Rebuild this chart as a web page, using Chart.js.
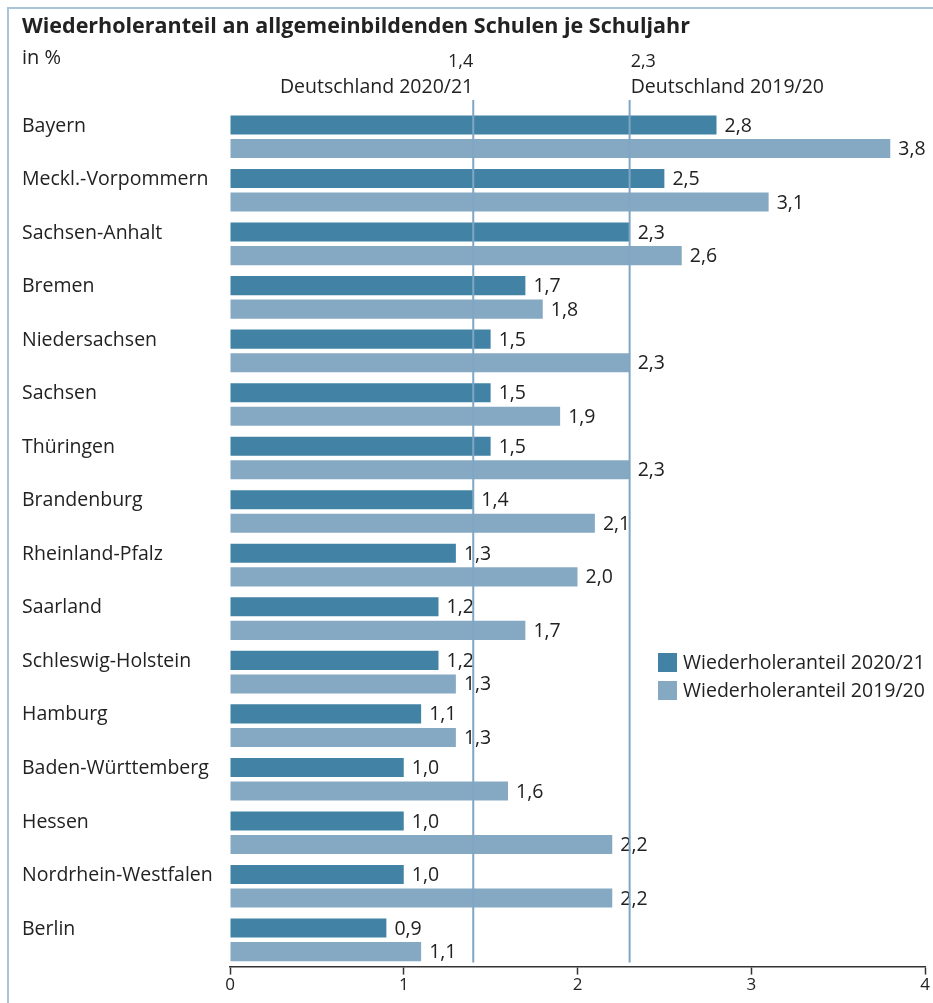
<!DOCTYPE html>
<html>
<head>
<meta charset="utf-8">
<script src="https://cdn.jsdelivr.net/npm/chart.js@4"></script>
<style>
  body { margin: 0; background: #fff; }
  #wrap { width: 933px; height: 1003px; position: relative; }
</style>
</head>
<body>
<div id="wrap"><canvas id="myChart"></canvas></div>
<script>
// Daten
const laender = ['Bayern', 'Meckl.-Vorpommern', 'Sachsen-Anhalt', 'Bremen', 'Niedersachsen', 'Sachsen',
  'Thüringen', 'Brandenburg', 'Rheinland-Pfalz', 'Saarland', 'Schleswig-Holstein', 'Hamburg',
  'Baden-Württemberg', 'Hessen', 'Nordrhein-Westfalen', 'Berlin'];
const anteil2021 = [2.8, 2.5, 2.3, 1.7, 1.5, 1.5, 1.5, 1.4, 1.3, 1.2, 1.2, 1.1, 1.0, 1.0, 1.0, 0.9];
const anteil1920 = [3.8, 3.1, 2.6, 1.8, 2.3, 1.9, 2.3, 2.1, 2.0, 1.7, 1.3, 1.3, 1.6, 2.2, 2.2, 1.1];
const serienNamen = ['Wiederholeranteil 2020/21', 'Wiederholeranteil 2019/20'];
const deutschland = [1.4, 2.3];
const deutschlandNamen = ['Deutschland 2020/21', 'Deutschland 2019/20'];
const xTicks = [0, 1, 2, 3, 4];

const FONT = '"Open Sans", sans-serif';
const dunkel = '#4283a5';
const hell = '#86a9c3';

function komma(v) {
  return v.toFixed(1).replace('.', ',');
}

// eigenes Plugin fuer Texte, Linien, Rahmen und Legende
const beschriftung = {
  id: 'beschriftung',
  beforeDraw(chart) {
    const c = chart.ctx;
    c.save();
    c.strokeStyle = '#a9c5da';
    c.lineWidth = 2;
    c.beginPath();
    c.moveTo(8, 1003);
    c.lineTo(8, 8);
    c.lineTo(933, 8);
    c.stroke();
    c.restore();
  },
  afterDatasetsDraw(chart) {
    const c = chart.ctx;
    const x = chart.scales.x;
    c.save();
    c.fillStyle = '#222';
    c.textBaseline = 'middle';

    // Titel
    c.font = 'bold 21.5px ' + FONT;
    c.textAlign = 'left';
    c.fillText('Wiederholeranteil an allgemeinbildenden Schulen je Schuljahr', 22, 27);
    c.font = '20px ' + FONT;
    c.fillText('in %', 22, 58);

    // Laendernamen an den dunklen Balken
    const meta0 = chart.getDatasetMeta(0);
    c.font = '19.5px ' + FONT;
    meta0.data.forEach(function (bar, i) {
      c.fillText(laender[i], 22, bar.y + 1);
    });

    // Werte rechts neben den Balken
    chart.data.datasets.forEach(function (ds, d) {
      chart.getDatasetMeta(d).data.forEach(function (bar, i) {
        c.fillText(komma(ds.data[i]), bar.x + 8, bar.y + 1);
      });
    });

    // Deutschland-Linien
    for (let k = 0; k < deutschland.length; k++) {
      const px = x.getPixelForValue(deutschland[k]);
      c.strokeStyle = '#7fa6c4';
      c.lineWidth = 2;
      c.beginPath();
      c.moveTo(px, 100);
      c.lineTo(px, chart.chartArea.bottom - 4);
      c.stroke();
      c.fillStyle = '#222';
      c.textAlign = k === 0 ? 'right' : 'left';
      const tx = k === 0 ? px : px + 1;
      c.font = '18px ' + FONT;
      c.fillText(komma(deutschland[k]), tx, 62);
      c.font = '19.5px ' + FONT;
      c.fillText(deutschlandNamen[k], tx, 87);
    }

    // Legende
    c.textAlign = 'left';
    c.font = '19.5px ' + FONT;
    [dunkel, hell].forEach(function (farbe, i) {
      c.fillStyle = farbe;
      c.fillRect(658, 653 + i * 28, 19, 19);
      c.fillStyle = '#222';
      c.fillText(serienNamen[i], 683, 663 + i * 28);
    });
    c.restore();
  }
};

const ctx = document.getElementById('myChart').getContext('2d');
const myChart = new Chart(ctx, {
  type: 'bar',
  data: {
    labels: laender,
    datasets: [
      { label: serienNamen[0], data: anteil2021, backgroundColor: dunkel, categoryPercentage: 0.88, barPercentage: 0.81 },
      { label: serienNamen[1], data: anteil1920, backgroundColor: hell, categoryPercentage: 0.88, barPercentage: 0.81 }
    ]
  },
  options: {
    indexAxis: 'y',
    responsive: true,
    maintainAspectRatio: false,
    animation: false,
    layout: { padding: { left: 230, right: 8, top: 110, bottom: 8 } },
    plugins: { legend: { display: false }, tooltip: { enabled: false } },
    scales: {
      x: {
        min: 0,
        max: 4,
        afterBuildTicks(axis) { axis.ticks = xTicks.map(function (v) { return { value: v }; }); },
        grid: { drawOnChartArea: false, drawTicks: true, tickLength: 8, tickColor: '#333', tickWidth: 1.5 },
        border: { display: true, color: '#333', width: 1.5 },
        ticks: { padding: 0, color: '#222', font: { family: FONT, size: 17 } }
      },
      y: {
        display: false
      }
    }
  },
  plugins: [beschriftung]
});
</script>
</body>
</html>
